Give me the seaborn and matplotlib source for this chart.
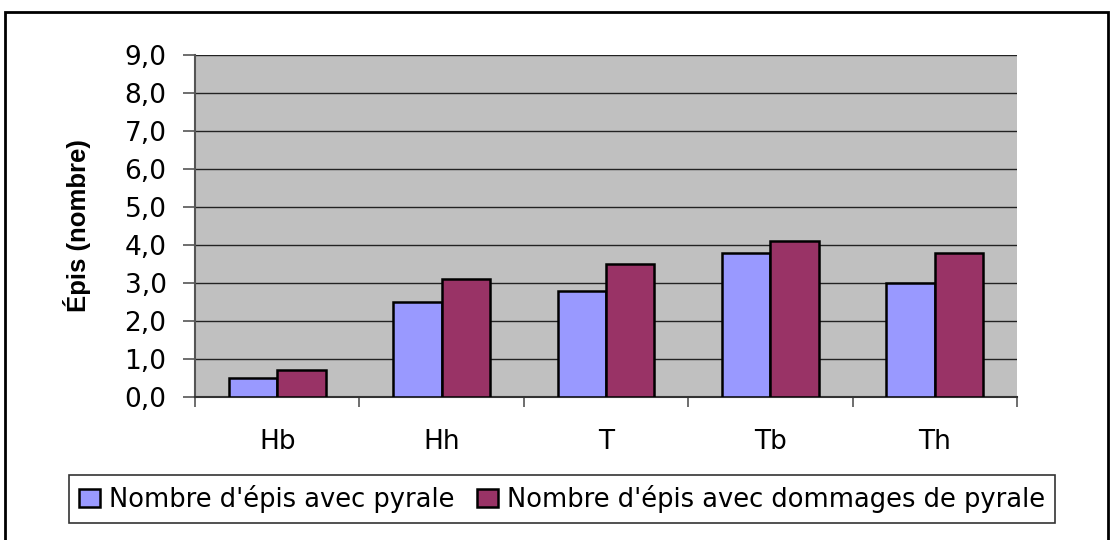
import matplotlib
matplotlib.use("Agg")
import matplotlib.pyplot as plt
import matplotlib.patches as mpatches
from matplotlib.ticker import FuncFormatter, FixedLocator
import seaborn as sns
import pandas as pd

categories = ["Hb", "Hh", "T", "Tb", "Th"]
avec_pyrale = [0.5, 2.5, 2.8, 3.8, 3.0]
avec_dommages = [0.7, 3.1, 3.5, 4.1, 3.8]
series_names = ["Nombre d'épis avec pyrale", "Nombre d'épis avec dommages de pyrale"]
y_ticks = [0, 1, 2, 3, 4, 5, 6, 7, 8, 9]

df = pd.DataFrame({
    "categorie": categories * 2,
    "serie": [series_names[0]] * len(categories) + [series_names[1]] * len(categories),
    "valeur": avec_pyrale + avec_dommages,
})

sns.set_style("white")
plt.rcParams["font.family"] = ["DejaVu Sans"]
plt.rcParams["text.color"] = "black"
plt.rcParams["axes.labelcolor"] = "black"
plt.rcParams["xtick.labelcolor"] = "black"
plt.rcParams["ytick.labelcolor"] = "black"

fig = plt.figure(figsize=(11.12, 5.4), dpi=100)
# plot area: x 195..1017 px, y 55..397 px
ax = fig.add_axes([195 / 1112, 143 / 540, 822 / 1112, 342 / 540])
ax.set_facecolor("#C0C0C0")

sns.barplot(data=df, x="categorie", y="valeur", hue="serie",
            palette=["#9999FF", "#993366"], width=0.59, saturation=1,
            edgecolor="black", linewidth=1.8, ax=ax, legend=True, zorder=3)

ax.set_ylim(0, 9)
ax.set_xlim(-0.5, len(categories) - 0.5)
ax.set_yticks(y_ticks)
ax.yaxis.set_major_formatter(FuncFormatter(lambda v, p: f"{v:.1f}".replace(".", ",")))
ax.grid(axis="y", color="#222222", linewidth=1, zorder=0)
ax.set_axisbelow(True)

ax.xaxis.set_minor_locator(FixedLocator([i - 0.5 for i in range(len(categories) + 1)]))
ax.tick_params(axis="x", which="major", length=0, labelsize=19, pad=23)
ax.tick_params(axis="x", which="minor", length=7.5, width=1.2, color="#555555", direction="out", bottom=True)
ax.tick_params(axis="y", length=8.5, width=1.2, color="#555555", direction="out", left=True,
               labelsize=19, pad=12)

for s in ["top", "right"]:
    ax.spines[s].set_visible(False)
ax.spines["left"].set_color("#555555")
ax.spines["left"].set_linewidth(1.5)
ax.spines["bottom"].set_color("#333333")
ax.spines["bottom"].set_linewidth(1.5)

ax.set_xlabel("")
ax.set_ylabel("Épis (nombre)", fontsize=18.5, fontweight="bold",
              family=["Liberation Sans", "DejaVu Sans"])
ax.yaxis.set_label_coords(-0.127, 0.5)

handles, labels = ax.get_legend_handles_labels()
ax.get_legend().remove()
# legend box: x 60..1065 px, centred around y 499 px
leg = fig.legend(handles, labels, loc="center", ncol=2,
                 bbox_to_anchor=(562 / 1112, 41 / 540),
                 fontsize=18.5, frameon=True, fancybox=False, edgecolor="black",
                 handlelength=0.8, handleheight=0.75, handletextpad=0.35, columnspacing=0.9,
                 borderpad=0.4, borderaxespad=0)
leg.get_frame().set_linewidth(1.2)

# outer chart border (bottom edge falls outside the picture)
fig.patches.append(mpatches.Rectangle((5 / 1112, -0.02), 1103 / 1112, 0.02 + 528 / 540,
                                      transform=fig.transFigure, fill=False,
                                      edgecolor="black", linewidth=2))

fig.savefig("out.png", dpi=100)
